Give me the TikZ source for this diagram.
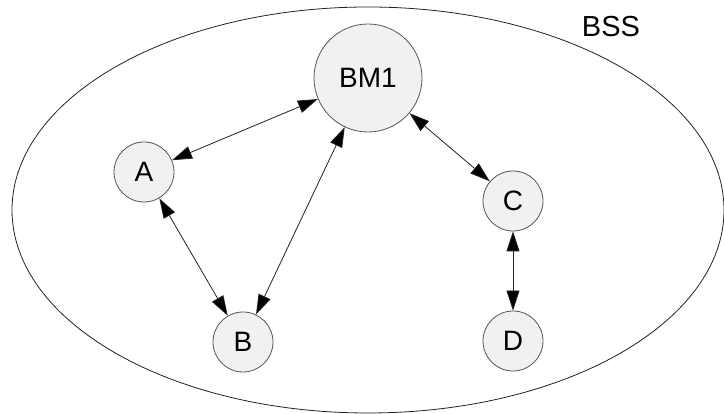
\documentclass[tikz,border=0pt]{standalone}
\usepackage{fontspec}
\setmainfont{Liberation Sans}
\usetikzlibrary{arrows.meta}
\definecolor{nodefill}{HTML}{F1F1F1}
\definecolor{nodeline}{HTML}{555555}
\definecolor{edgeline}{HTML}{222222}
\tikzset{
  station/.style={circle, draw=nodeline, fill=nodefill, line width=0.8pt,
    minimum size=60pt, inner sep=0pt, font=\fontsize{28}{30}\selectfont},
  master/.style={station, minimum size=108pt},
  link/.style={draw=edgeline, line width=0.8pt,
    {Triangle[length=20pt,width=13pt,fill=black]}-{Triangle[length=20pt,width=13pt,fill=black]}},
  bssline/.style={draw=edgeline, line width=0.8pt}
}
\begin{document}
\begin{tikzpicture}[x=1pt,y=1pt]
  \useasboundingbox (0,0) rectangle (724,414);
  \draw[bssline] (368,204) ellipse [x radius=356, y radius=203];
  \node[font=\fontsize{29}{31}\selectfont] (bss) at (611,387) {BSS};
  \node[master] (bm1) at (368,336) {BM1};
  \node[station] (a) at (144,242) {A};
  \node[station] (b) at (243,72) {B};
  \node[station] (c) at (513,213) {C};
  \node[station] (d) at (513,73) {D};
  \draw[link] (a) -- (bm1);
  \draw[link] (b) -- (bm1);
  \draw[link] (a) -- (b);
  \draw[link] (bm1) -- (c);
  \draw[link] (c) -- (d);
\end{tikzpicture}
\end{document}
